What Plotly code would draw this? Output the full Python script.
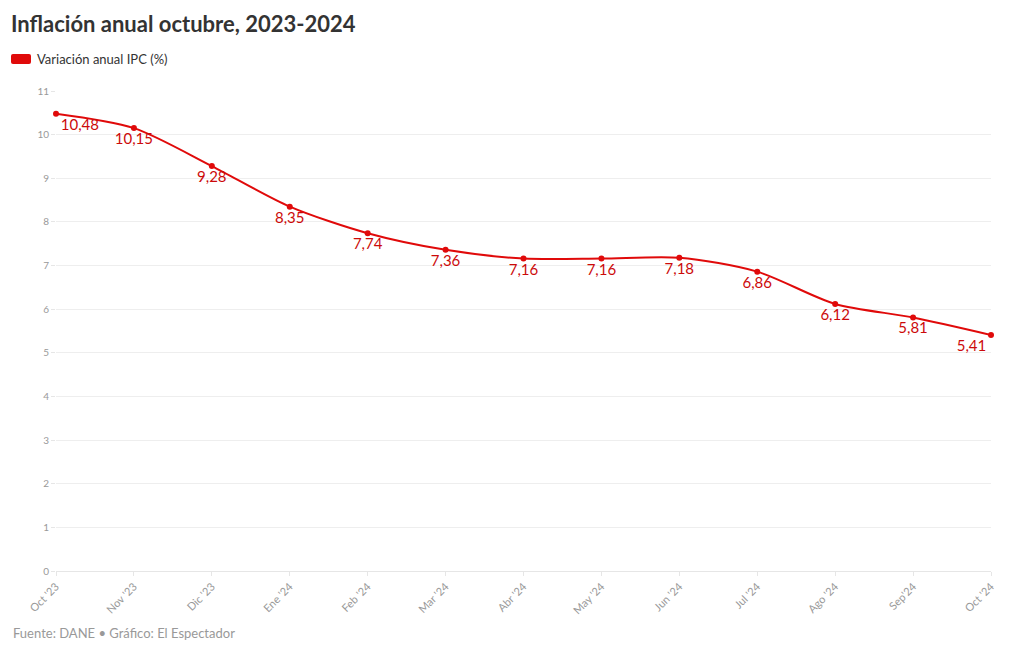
import plotly.graph_objects as go

meses = ["Oct '23", "Nov '23", "Dic '23", "Ene '24", "Feb '24", "Mar '24", "Abr '24",
         "May '24", "Jun '24", "Jul '24", "Ago '24", "Sep'24", "Oct '24"]
ipc = [10.48, 10.15, 9.28, 8.35, 7.74, 7.36, 7.16, 7.16, 7.18, 6.86, 6.12, 5.81, 5.41]
etiquetas = [f"{v:.2f}".replace(".", ",") for v in ipc]

RED = "#e00a0a"
FONT = "Lato"
W, H = 1020, 650
ML, MR, MT, MB = 56, 29, 91, 79
PW, PH = W - ML - MR, H - MT - MB


def px(x):
    return (x - ML) / PW


def py(y):
    return (H - MB - y) / PH


positions = ["bottom right"] + ["bottom center"] * (len(ipc) - 2) + ["bottom left"]

fig = go.Figure()
fig.add_trace(go.Scatter(
    x=list(range(len(meses))), y=ipc, mode="lines+markers+text",
    line=dict(color=RED, width=2, shape="spline", smoothing=0.8),
    marker=dict(color=RED, size=6),
    text=etiquetas, textposition=positions,
    textfont=dict(family=FONT, size=15, color="#cc0a0a"),
    cliponaxis=False, showlegend=False, hoverinfo="x+y",
))

# rounded legend swatch
x0, x1, y0, y1, r = 11, 31, 54, 64, 2
path = (f"M {px(x0+r)} {py(y0)} L {px(x1-r)} {py(y0)} Q {px(x1)} {py(y0)} {px(x1)} {py(y0+r)} "
        f"L {px(x1)} {py(y1-r)} Q {px(x1)} {py(y1)} {px(x1-r)} {py(y1)} "
        f"L {px(x0+r)} {py(y1)} Q {px(x0)} {py(y1)} {px(x0)} {py(y1-r)} "
        f"L {px(x0)} {py(y0+r)} Q {px(x0)} {py(y0)} {px(x0+r)} {py(y0)} Z")

fig.update_layout(
    width=W, height=H,
    margin=dict(l=ML, r=MR, t=MT, b=MB),
    paper_bgcolor="white", plot_bgcolor="white",
    font=dict(family=FONT, color="#333"),
    title=dict(text="<b>Inflación anual octubre, 2023-2024</b>", x=11 / W, xanchor="left",
               y=1 - 24 / H, yanchor="middle", font=dict(family=FONT, size=22, color="#333")),
    xaxis=dict(
        range=[0, len(meses) - 1], tickmode="array", tickvals=list(range(len(meses))),
        ticktext=meses, tickangle=-45, showgrid=False, zeroline=False,
        showline=True, linecolor="#e6e6e6", ticks="outside", ticklen=4, tickcolor="#e6e6e6",
        tickfont=dict(family=FONT, size=11, color="#999"),
    ),
    yaxis=dict(
        range=[0, 11], dtick=1, showgrid=True, gridcolor="#eeeeee", zeroline=False,
        ticks="outside", ticklen=4, tickcolor="#e6e6e6",
        tickfont=dict(family=FONT, size=10, color="#999"),
    ),
    shapes=[dict(type="path", xref="paper", yref="paper", path=path,
                 fillcolor=RED, line=dict(width=0), layer="above")],
    annotations=[
        dict(text="Variación anual IPC (%)", xref="paper", yref="paper",
             x=px(35), y=py(59), xanchor="left", yanchor="middle",
             showarrow=False, font=dict(family=FONT, size=13, color="#333")),
        dict(text="Fuente: DANE • Gráfico: El Espectador", xref="paper", yref="paper",
             x=px(11), y=py(633), xanchor="left", yanchor="middle",
             showarrow=False, font=dict(family=FONT, size=13, color="#999")),
    ],
)

fig.write_html("out.html", config={"displayModeBar": False},
               post_script="document.body.style.margin='0';document.body.style.padding='0';")
